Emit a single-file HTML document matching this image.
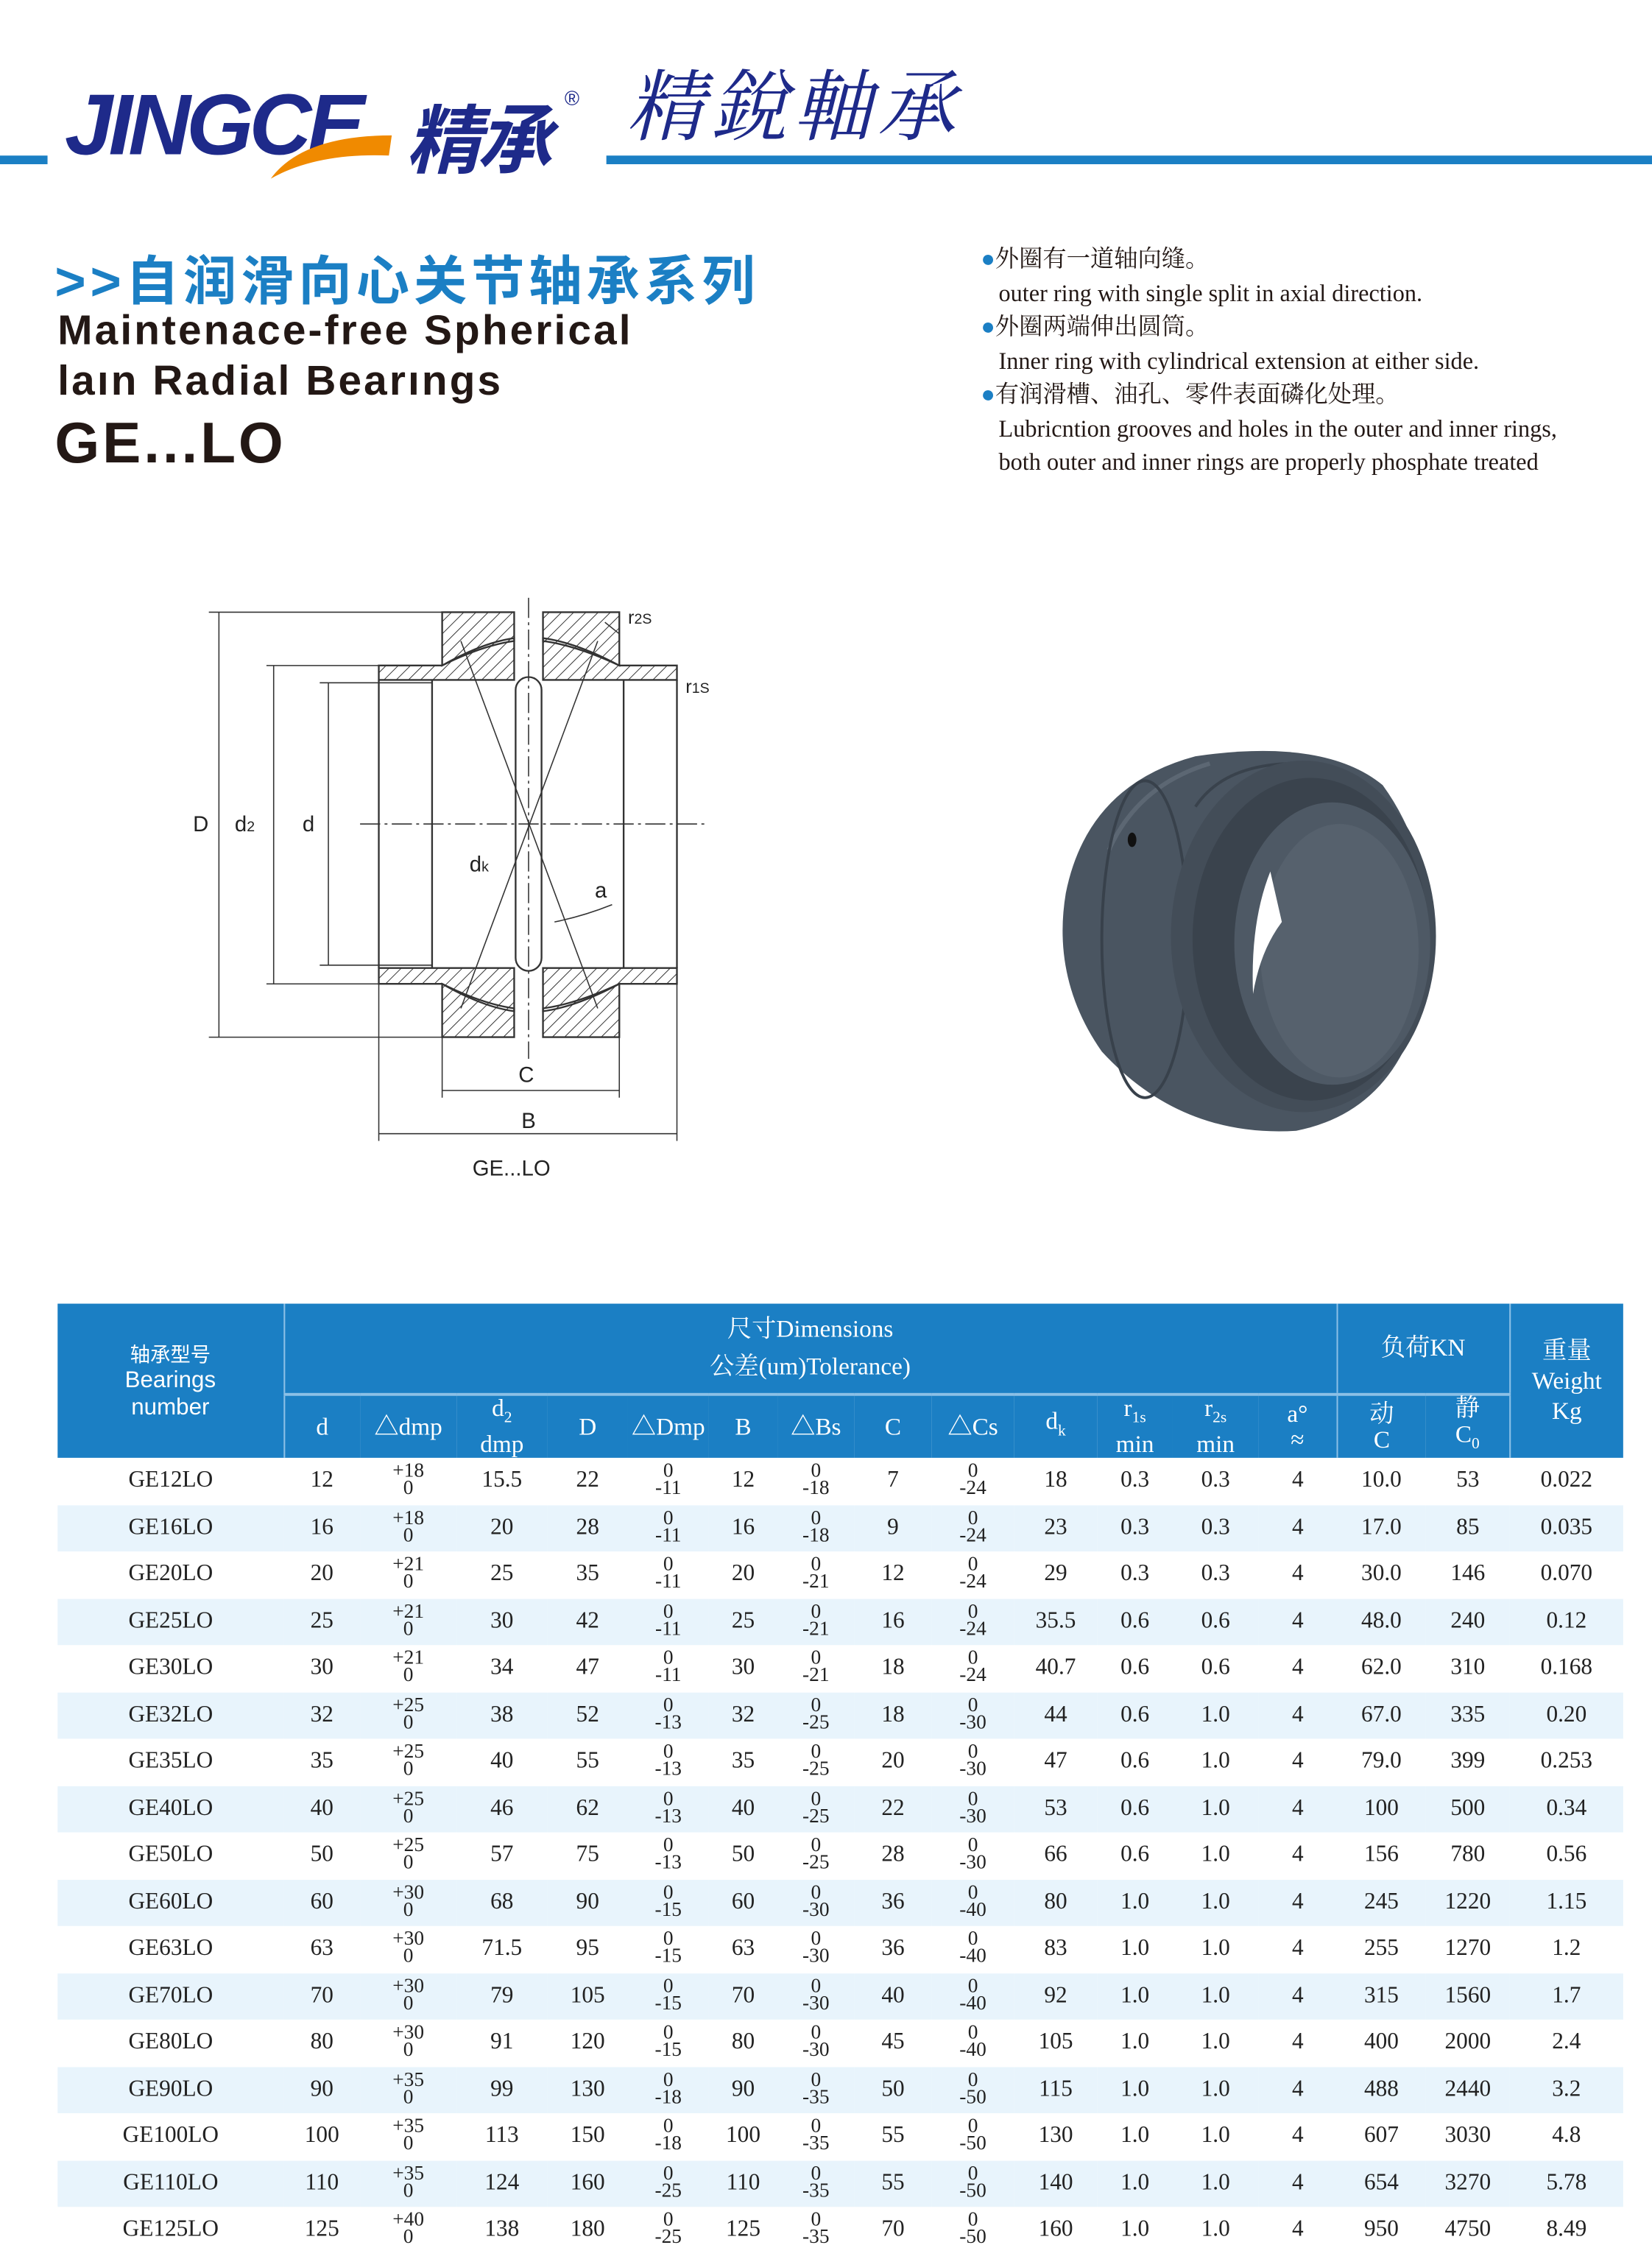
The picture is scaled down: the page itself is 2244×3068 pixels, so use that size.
<!DOCTYPE html>
<html><head><meta charset="utf-8">
<style>
html,body{margin:0;padding:0;background:#fff;width:2244px;height:3067px;overflow:hidden}
#w{position:absolute;left:0;top:0;width:1147px;height:1568px;transform:scale(1.9564);transform-origin:0 0;font-family:"Liberation Serif","Noto Serif CJK SC",serif;color:#222}
.a{position:absolute;white-space:nowrap}
.sans{font-family:"Liberation Sans","Noto Sans CJK SC",sans-serif}
table{position:absolute;left:40px;top:905px;border-collapse:collapse;table-layout:fixed;width:1087px}
td{padding:0;text-align:center;font-size:16px;height:32.5px;vertical-align:middle}
tr.b td{background:#e8f4fc}
.t{font-size:14px;line-height:12px}
th{background:#1b7fc4;color:#fff;font-weight:normal;font-size:17px;padding:0;line-height:18px}
</style></head><body><div id="w">
<div class="a" style="left:0;top:108px;width:33px;height:6px;background:#1b7fc4"></div>
<div class="a" style="left:421px;top:108px;width:726px;height:6px;background:#1b7fc4"></div>
<div class="a sans" style="left:45px;top:52px;font-size:60px;font-weight:bold;font-style:italic;color:#1e2a8a;letter-spacing:-3px">JINGCE</div>
<svg class="a" style="left:180px;top:88px" width="100" height="40"><path d="M8 36 Q30 6 92 6 L90 20 Q40 18 8 36Z" fill="#f08a00"/></svg>
<div class="a sans" style="left:282px;top:56px;font-size:52px;font-weight:bold;font-style:italic;color:#1e2a8a;letter-spacing:-3px">精承</div>
<div class="a sans" style="left:392px;top:60px;font-size:14px;color:#1e2a8a">®</div>
<div class="a" style="left:435px;top:32px;font-size:54px;font-style:italic;color:#1e2a8a;letter-spacing:4px;font-family:'Noto Serif CJK SC',serif">精銳軸承</div>
<div class="a sans" style="left:38px;top:165px;font-size:37px;font-weight:bold;color:#1b7fc4;letter-spacing:3px">&gt;&gt;自润滑向心关节轴承系列</div>
<div class="a sans" style="left:40px;top:214px;font-size:29px;font-weight:bold;color:#231815;letter-spacing:1.6px">Maintenace-free Spherical</div>
<div class="a sans" style="left:40px;top:249px;font-size:29px;font-weight:bold;color:#231815;letter-spacing:1.6px">laın Radial Bearıngs</div>
<div class="a sans" style="left:38px;top:286px;font-size:40px;font-weight:bold;color:#231815;letter-spacing:2px">GE...LO</div>
<div class="a" style="left:681px;top:168px;font-size:16.5px;line-height:23.5px;color:#231815">
<span style="color:#1b7fc4">●</span>外圈有一道轴向缝。<br>&nbsp;&nbsp;&nbsp;outer ring with single split in axial direction.<br>
<span style="color:#1b7fc4">●</span>外圈两端伸出圆筒。<br>&nbsp;&nbsp;&nbsp;Inner ring with cylindrical extension at either side.<br>
<span style="color:#1b7fc4">●</span>有润滑槽、油孔、零件表面磷化处理。<br>&nbsp;&nbsp;&nbsp;Lubricntion grooves and holes in the outer and inner rings,<br>&nbsp;&nbsp;&nbsp;both outer and inner rings are properly phosphate treated</div>
<svg class="a" style="left:0;top:400px" width="620" height="440" viewBox="0 400 620 440">
<defs><pattern id="h" width="6" height="6" patternUnits="userSpaceOnUse" patternTransform="rotate(45)"><line x1="0" y1="0" x2="0" y2="6" stroke="#333" stroke-width="1"/></pattern></defs>
<g stroke="#333" stroke-width="1.2" fill="url(#h)">
<path d="M307 425 H357 V445 Q335 448 307 462Z"/><path d="M377 425 H430 V462 Q400 448 377 445Z"/>
<path d="M263 462 H307 Q335 446 357 443 V472 H263Z"/><path d="M377 443 Q400 446 430 462 H470 V472 H377Z"/>
<path d="M307 720 H357 V700 Q335 697 307 683Z"/><path d="M377 720 H430 V683 Q400 697 377 700Z"/>
<path d="M263 683 H307 Q335 699 357 702 V672 H263Z"/><path d="M377 702 Q400 699 430 683 H470 V672 H377Z"/>
</g>
<g stroke="#333" stroke-width="1.2" fill="none">
<line x1="300" y1="472" x2="300" y2="672"/><line x1="433" y1="472" x2="433" y2="672"/>
<line x1="263" y1="472" x2="263" y2="672"/><line x1="470" y1="472" x2="470" y2="672"/>
<rect x="358" y="470" width="18" height="204" rx="9"/>
<line x1="145" y1="425" x2="307" y2="425" stroke-width=".8"/><line x1="145" y1="720" x2="307" y2="720" stroke-width=".8"/>
<line x1="185" y1="462" x2="263" y2="462" stroke-width=".8"/><line x1="185" y1="683" x2="263" y2="683" stroke-width=".8"/>
<line x1="222" y1="474" x2="300" y2="474" stroke-width=".8"/><line x1="222" y1="670" x2="300" y2="670" stroke-width=".8"/>
<line x1="152" y1="425" x2="152" y2="720" stroke-width=".8"/><line x1="190" y1="462" x2="190" y2="683" stroke-width=".8"/><line x1="228" y1="474" x2="228" y2="670" stroke-width=".8"/>
<line x1="250" y1="572" x2="490" y2="572" stroke-dasharray="14 3 2 3" stroke-width=".8"/>
<line x1="367" y1="415" x2="367" y2="735" stroke-dasharray="14 3 2 3" stroke-width=".8"/>
<line x1="307" y1="720" x2="307" y2="762" stroke-width=".8"/><line x1="430" y1="720" x2="430" y2="762" stroke-width=".8"/>
<line x1="263" y1="683" x2="263" y2="792" stroke-width=".8"/><line x1="470" y1="683" x2="470" y2="792" stroke-width=".8"/>
<line x1="307" y1="757" x2="430" y2="757" stroke-width=".8"/><line x1="263" y1="787" x2="470" y2="787" stroke-width=".8"/>
<line x1="320" y1="700" x2="415" y2="445" stroke-width=".8"/><line x1="320" y1="445" x2="415" y2="700" stroke-width=".8"/>
<line x1="420" y1="432" x2="430" y2="440" stroke-width=".8"/>
<path d="M385 640 Q405 636 425 628" stroke-width=".8"/>
</g>
<g font-family="Liberation Sans" font-size="15" fill="#222">
<text x="134" y="577">D</text><text x="163" y="577">d<tspan font-size="10">2</tspan></text><text x="210" y="577">d</text>
<text x="326" y="605">d<tspan font-size="10">k</tspan></text><text x="413" y="623">a</text>
<text x="436" y="433" font-size="13">r<tspan font-size="10">2S</tspan></text><text x="476" y="481" font-size="13">r<tspan font-size="10">1S</tspan></text>
<text x="360" y="751">C</text><text x="362" y="783">B</text><text x="328" y="816">GE...LO</text></g>
</svg>
<!-- photo -->
<svg class="a" style="left:730px;top:515px" width="270" height="275" viewBox="730 515 270 275">
<path d="M830 525 Q920 512 960 545 Q1000 600 990 680 Q975 770 900 785 Q820 790 765 730 Q730 680 740 620 Q755 545 830 525Z" fill="#4a5561"/>
<path d="M770 590 Q790 545 840 530" stroke="#5c6773" stroke-width="3" fill="none"/>
<path d="M830 560 Q850 530 900 530" stroke="#39424c" stroke-width="2" fill="none"/>
<ellipse cx="795" cy="652" rx="30" ry="110" fill="none" stroke="#38414b" stroke-width="2"/>
<ellipse cx="905" cy="650" rx="92" ry="122" fill="#434d58"/>
<ellipse cx="910" cy="652" rx="82" ry="112" fill="#3a434d"/>
<ellipse cx="925" cy="655" rx="68" ry="98" fill="#4e5965"/>
<ellipse cx="930" cy="660" rx="55" ry="88" fill="#56616d"/>
<path d="M882 605 Q868 640 870 690 Q875 660 890 640Z" fill="#ffffff"/>
<ellipse cx="786" cy="583" rx="3" ry="5" fill="#111"/>
</svg>
<table>
<colgroup><col style="width:157px"><col style="width:53px"><col style="width:67px"><col style="width:63px"><col style="width:56px"><col style="width:56px"><col style="width:48px"><col style="width:53px"><col style="width:54px"><col style="width:57px"><col style="width:58px"><col style="width:52px"><col style="width:60px"><col style="width:54px"><col style="width:62px"><col style="width:58px"><col style="width:79px"></colgroup>
<tr style="height:63px"><th rowspan="2" class="sans" style="font-size:14px;line-height:18px;border-right:1px solid #8cc0e6">轴承型号<br><span style="font-size:16px">Bearings<br>number</span></th>
<th colspan="13" style="border-bottom:2px solid #8cc0e6;border-right:1px solid #8cc0e6;line-height:26px">尺寸Dimensions<br>公差(um)Tolerance)</th>
<th colspan="2" style="border-bottom:2px solid #8cc0e6;border-right:1px solid #8cc0e6">负荷KN</th>
<th rowspan="2" style="line-height:21px">重量<br>Weight<br>Kg</th></tr>
<tr style="height:44px"><th>d</th><th>△dmp</th><th>d<sub style="font-size:11px">2</sub><br>dmp</th><th>D</th><th>△Dmp</th><th>B</th><th>△Bs</th><th>C</th><th>△Cs</th><th>d<sub style="font-size:11px">k</sub></th><th>r<sub style="font-size:11px">1s</sub><br>min</th><th>r<sub style="font-size:11px">2s</sub><br>min</th><th style="border-right:1px solid #8cc0e6">a°<br>≈</th><th>动<br>C</th><th style="border-right:1px solid #8cc0e6">静<br>C<sub style="font-size:11px">0</sub></th></tr>
<tr><td>GE12LO</td><td>12</td><td class="t">+18<br>0</td><td>15.5</td><td>22</td><td class="t">0<br>-11</td><td>12</td><td class="t">0<br>-18</td><td>7</td><td class="t">0<br>-24</td><td>18</td><td>0.3</td><td>0.3</td><td>4</td><td>10.0</td><td>53</td><td>0.022</td></tr>
<tr class="b"><td>GE16LO</td><td>16</td><td class="t">+18<br>0</td><td>20</td><td>28</td><td class="t">0<br>-11</td><td>16</td><td class="t">0<br>-18</td><td>9</td><td class="t">0<br>-24</td><td>23</td><td>0.3</td><td>0.3</td><td>4</td><td>17.0</td><td>85</td><td>0.035</td></tr>
<tr><td>GE20LO</td><td>20</td><td class="t">+21<br>0</td><td>25</td><td>35</td><td class="t">0<br>-11</td><td>20</td><td class="t">0<br>-21</td><td>12</td><td class="t">0<br>-24</td><td>29</td><td>0.3</td><td>0.3</td><td>4</td><td>30.0</td><td>146</td><td>0.070</td></tr>
<tr class="b"><td>GE25LO</td><td>25</td><td class="t">+21<br>0</td><td>30</td><td>42</td><td class="t">0<br>-11</td><td>25</td><td class="t">0<br>-21</td><td>16</td><td class="t">0<br>-24</td><td>35.5</td><td>0.6</td><td>0.6</td><td>4</td><td>48.0</td><td>240</td><td>0.12</td></tr>
<tr><td>GE30LO</td><td>30</td><td class="t">+21<br>0</td><td>34</td><td>47</td><td class="t">0<br>-11</td><td>30</td><td class="t">0<br>-21</td><td>18</td><td class="t">0<br>-24</td><td>40.7</td><td>0.6</td><td>0.6</td><td>4</td><td>62.0</td><td>310</td><td>0.168</td></tr>
<tr class="b"><td>GE32LO</td><td>32</td><td class="t">+25<br>0</td><td>38</td><td>52</td><td class="t">0<br>-13</td><td>32</td><td class="t">0<br>-25</td><td>18</td><td class="t">0<br>-30</td><td>44</td><td>0.6</td><td>1.0</td><td>4</td><td>67.0</td><td>335</td><td>0.20</td></tr>
<tr><td>GE35LO</td><td>35</td><td class="t">+25<br>0</td><td>40</td><td>55</td><td class="t">0<br>-13</td><td>35</td><td class="t">0<br>-25</td><td>20</td><td class="t">0<br>-30</td><td>47</td><td>0.6</td><td>1.0</td><td>4</td><td>79.0</td><td>399</td><td>0.253</td></tr>
<tr class="b"><td>GE40LO</td><td>40</td><td class="t">+25<br>0</td><td>46</td><td>62</td><td class="t">0<br>-13</td><td>40</td><td class="t">0<br>-25</td><td>22</td><td class="t">0<br>-30</td><td>53</td><td>0.6</td><td>1.0</td><td>4</td><td>100</td><td>500</td><td>0.34</td></tr>
<tr><td>GE50LO</td><td>50</td><td class="t">+25<br>0</td><td>57</td><td>75</td><td class="t">0<br>-13</td><td>50</td><td class="t">0<br>-25</td><td>28</td><td class="t">0<br>-30</td><td>66</td><td>0.6</td><td>1.0</td><td>4</td><td>156</td><td>780</td><td>0.56</td></tr>
<tr class="b"><td>GE60LO</td><td>60</td><td class="t">+30<br>0</td><td>68</td><td>90</td><td class="t">0<br>-15</td><td>60</td><td class="t">0<br>-30</td><td>36</td><td class="t">0<br>-40</td><td>80</td><td>1.0</td><td>1.0</td><td>4</td><td>245</td><td>1220</td><td>1.15</td></tr>
<tr><td>GE63LO</td><td>63</td><td class="t">+30<br>0</td><td>71.5</td><td>95</td><td class="t">0<br>-15</td><td>63</td><td class="t">0<br>-30</td><td>36</td><td class="t">0<br>-40</td><td>83</td><td>1.0</td><td>1.0</td><td>4</td><td>255</td><td>1270</td><td>1.2</td></tr>
<tr class="b"><td>GE70LO</td><td>70</td><td class="t">+30<br>0</td><td>79</td><td>105</td><td class="t">0<br>-15</td><td>70</td><td class="t">0<br>-30</td><td>40</td><td class="t">0<br>-40</td><td>92</td><td>1.0</td><td>1.0</td><td>4</td><td>315</td><td>1560</td><td>1.7</td></tr>
<tr><td>GE80LO</td><td>80</td><td class="t">+30<br>0</td><td>91</td><td>120</td><td class="t">0<br>-15</td><td>80</td><td class="t">0<br>-30</td><td>45</td><td class="t">0<br>-40</td><td>105</td><td>1.0</td><td>1.0</td><td>4</td><td>400</td><td>2000</td><td>2.4</td></tr>
<tr class="b"><td>GE90LO</td><td>90</td><td class="t">+35<br>0</td><td>99</td><td>130</td><td class="t">0<br>-18</td><td>90</td><td class="t">0<br>-35</td><td>50</td><td class="t">0<br>-50</td><td>115</td><td>1.0</td><td>1.0</td><td>4</td><td>488</td><td>2440</td><td>3.2</td></tr>
<tr><td>GE100LO</td><td>100</td><td class="t">+35<br>0</td><td>113</td><td>150</td><td class="t">0<br>-18</td><td>100</td><td class="t">0<br>-35</td><td>55</td><td class="t">0<br>-50</td><td>130</td><td>1.0</td><td>1.0</td><td>4</td><td>607</td><td>3030</td><td>4.8</td></tr>
<tr class="b"><td>GE110LO</td><td>110</td><td class="t">+35<br>0</td><td>124</td><td>160</td><td class="t">0<br>-25</td><td>110</td><td class="t">0<br>-35</td><td>55</td><td class="t">0<br>-50</td><td>140</td><td>1.0</td><td>1.0</td><td>4</td><td>654</td><td>3270</td><td>5.78</td></tr>
<tr><td>GE125LO</td><td>125</td><td class="t">+40<br>0</td><td>138</td><td>180</td><td class="t">0<br>-25</td><td>125</td><td class="t">0<br>-35</td><td>70</td><td class="t">0<br>-50</td><td>160</td><td>1.0</td><td>1.0</td><td>4</td><td>950</td><td>4750</td><td>8.49</td></tr>
</table>
</div></body></html>
